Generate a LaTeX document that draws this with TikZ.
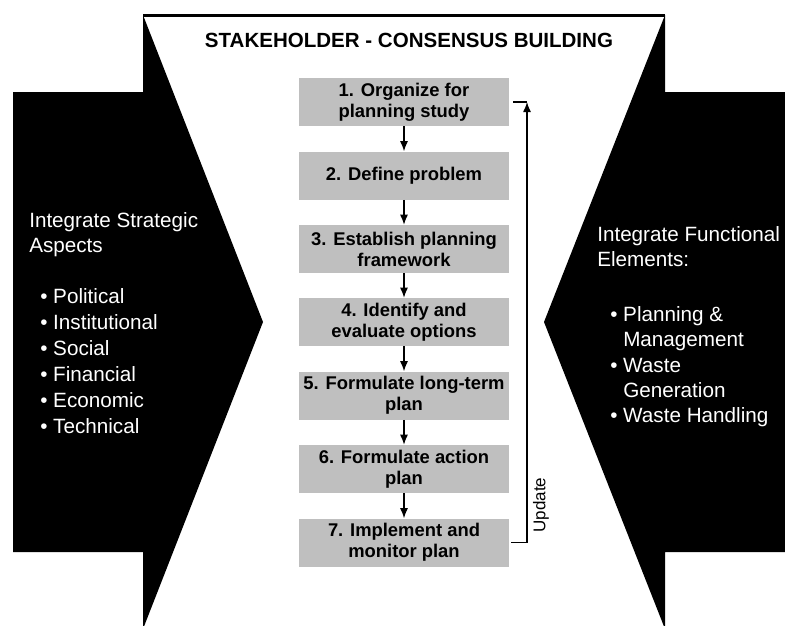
\documentclass[tikz,border=0pt]{standalone}
\usepackage{fontspec}
\setmainfont{Liberation Sans}
\usetikzlibrary{arrows.meta}

\begin{document}
\begin{tikzpicture}[x=0.75pt,y=0.75pt,yscale=-1,xscale=1,
  stepbox/.style={fill=black!25, minimum width=157.5pt, minimum height=36pt, inner sep=0pt, align=center, font=\fontsize{13.8}{15.75}\selectfont\bfseries},
  flow/.style={line width=1pt, -{Latex[length=7.5pt,width=6pt]}},
  sidetext/.style={white, anchor=base west, inner sep=0pt, font=\fontsize{15.5}{18}\selectfont}]
%set diagram left start at 0, and has height of 625
\useasboundingbox (0,0) rectangle (785,625);

%Shape: Polygon [left arrow]
\fill [black] (13,92) -- (143,92) -- (143,15) -- (263,322) -- (143,629) -- (143,552) -- (13,552) -- cycle ;
%Shape: Polygon [right arrow]
\fill [black] (785,92) -- (665,92) -- (665,15) -- (544,322) -- (665,629) -- (665,552) -- (785,552) -- cycle ;
%Straight Lines [top edge]
\draw [line width=2.25pt] (143,15) -- (665,15) ;

% Text Node
\node (title) at (409,40) [inner sep=0pt, font=\fontsize{15.4}{18}\selectfont\bfseries] {STAKEHOLDER - CONSENSUS BUILDING};

% Step boxes
\node (s1) at (404,102) [stepbox] {1. Organize for\\planning study};
\node (s2) at (404,175.5) [stepbox] {2. Define problem};
\node (s3) at (404,249) [stepbox] {3. Establish planning\\framework};
\node (s4) at (404,322) [stepbox] {4. Identify and\\evaluate options};
\node (s5) at (404,395.5) [stepbox] {5. Formulate long-term\\plan};
\node (s6) at (404,469) [stepbox] {6. Formulate action\\plan};
\node (s7) at (404,542.5) [stepbox] {7. Implement and\\monitor plan};

%Straight Lines
\draw [flow] (s1) -- (s2) ;
\draw [flow] (s2) -- (s3) ;
\draw [flow] (s3) -- (s4) ;
\draw [flow] (s4) -- (s5) ;
\draw [flow] (s5) -- (s6) ;
\draw [flow] (s6) -- (s7) ;

%Feedback line
\coordinate (upd) at (527,102) ;
\draw [flow] ([xshift=1.5pt]s7.east) -| (upd) ;
\draw [line width=1pt] ([xshift=3pt]s1.east) -- (upd) ;
% Text Node
\node (update) at (541,505) [rotate=90, inner sep=0pt, font=\fontsize{12.75}{15}\selectfont] {Update};

% Text Node [left]
\node (strat1) at (29,227) [sidetext] {Integrate Strategic};
\node (strat2) at (29,252) [sidetext] {Aspects};
\node (pol) at (40,303) [sidetext] {• Political};
\node (inst) at (40,329) [sidetext] {• Institutional};
\node (soc) at (40,355) [sidetext] {• Social};
\node (fin) at (40,381) [sidetext] {• Financial};
\node (eco) at (40,407) [sidetext] {• Economic};
\node (tech) at (40,433) [sidetext] {• Technical};

% Text Node [right]
\node (func1) at (597,241) [sidetext] {Integrate Functional};
\node (func2) at (597,266) [sidetext] {Elements:};
\node (plan) at (610,321) [sidetext] {• Planning \&};
\node (mgmt) at (623,346) [sidetext] {Management};
\node (gen1) at (610,372) [sidetext] {• Waste};
\node (gen2) at (623,397) [sidetext] {Generation};
\node (hand) at (610,422) [sidetext] {• Waste Handling};

\end{tikzpicture}
\end{document}
